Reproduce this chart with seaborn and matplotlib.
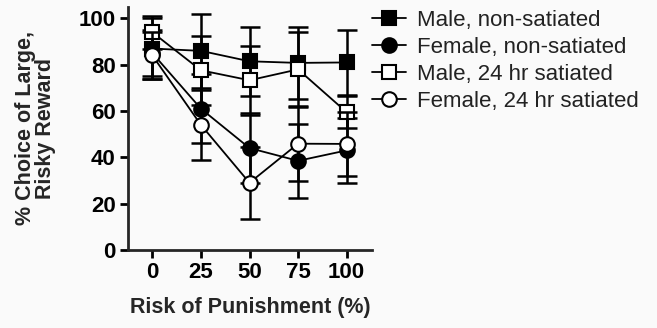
import numpy as np
import pandas as pd
import seaborn as sns
import matplotlib.pyplot as plt

risk = [0, 25, 50, 75, 100]
series = ["Male, non-satiated", "Female, non-satiated",
          "Male, 24 hr satiated", "Female, 24 hr satiated"]
male_ns = [87, 86, 81.5, 80.8, 81]
female_ns = [85, 61, 44, 38.5, 43]
male_24 = [94, 77.6, 73.3, 78, 59.5]
female_24 = [84, 54, 29, 45.9, 45.8]
male_ns_err = [13, 16, 15, 15.5, 14]
female_ns_err = [10, 15, 15, 16, 14]
male_24_err = [7, 15, 15, 16, 7]
female_24_err = [10, 15, 15.5, 16, 14]

means = [male_ns, female_ns, male_24, female_24]
errs = [male_ns_err, female_ns_err, male_24_err, female_24_err]
markers = ["s", "o", "s", "o"]
faces = ["black", "black", "white", "white"]

sns.set_style("ticks")
plt.rcParams['font.family'] = ['Liberation Sans', 'DejaVu Sans']

fig = plt.figure(figsize=(6.57, 3.28), dpi=100)
fig.patch.set_facecolor("#fafafa")
ax = fig.add_axes([0.195, 0.238, 0.371, 0.741])
ax.set_facecolor("#fafafa")

for i, name in enumerate(series):
    df = pd.DataFrame({"risk": risk, "pct": means[i]})
    ax.errorbar(risk, means[i], yerr=errs[i], fmt="none", ecolor="black",
                elinewidth=1.8, capsize=7, capthick=1.8, zorder=2 + i)
    sns.lineplot(data=df, x="risk", y="pct", ax=ax, color="black", lw=1.3,
                 marker=markers[i], markersize=10.5, markerfacecolor=faces[i],
                 markeredgecolor="black", markeredgewidth=1.5,
                 label=name, zorder=3 + i)

ax.set_xlim(-12.5, 113)
ax.set_ylim(0, 105)
ax.set_xticks(risk)
ax.set_yticks([0, 20, 40, 60, 80, 100])
for s in ["top", "right"]:
    ax.spines[s].set_visible(False)
for s in ["left", "bottom"]:
    ax.spines[s].set_linewidth(2)
ax.tick_params(width=2, length=6, labelsize=16, colors="black", pad=3)
for lab in ax.get_xticklabels() + ax.get_yticklabels():
    lab.set_fontweight("bold")
ax.set_xlabel("Risk of Punishment (%)", fontsize=15.5, fontweight="bold", labelpad=10)
ax.set_ylabel("% Choice of Large,\nRisky Reward", fontsize=15.5, fontweight="bold",
              labelpad=16, linespacing=0.95)

leg = ax.legend(loc="upper left", bbox_to_anchor=(0.965, 1.025), frameon=False,
                fontsize=16, handlelength=1.5, handletextpad=0.5,
                labelspacing=0.27, borderaxespad=0)
for t in leg.get_texts():
    t.set_color("#222222")

fig.savefig("out.png", dpi=100, facecolor=fig.get_facecolor())
